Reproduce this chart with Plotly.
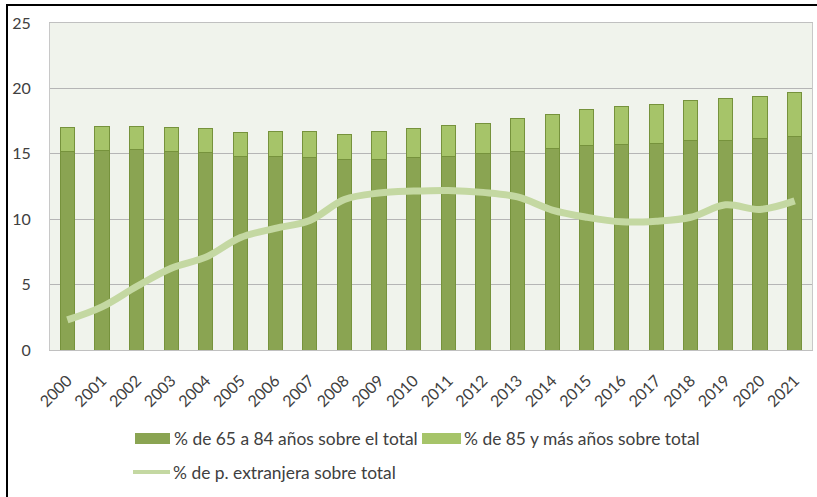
import plotly.graph_objects as go

years = [str(y) for y in range(2000, 2022)]
pct_65_84 = [15.2, 15.27, 15.3, 15.2, 15.1, 14.8, 14.8, 14.7, 14.55, 14.55, 14.7,
             14.8, 15.0, 15.2, 15.4, 15.6, 15.7, 15.8, 16.0, 16.05, 16.15, 16.35]
pct_total_65 = [17.0, 17.1, 17.1, 17.0, 16.9, 16.6, 16.7, 16.7, 16.5, 16.7, 16.9,
                17.15, 17.35, 17.7, 18.0, 18.4, 18.6, 18.8, 19.05, 19.25, 19.4, 19.7]
pct_85_plus = [round(t - a, 2) for t, a in zip(pct_total_65, pct_65_84)]
pct_extranjera = [2.3, 3.3, 4.85, 6.25, 7.1, 8.6, 9.3, 9.9, 11.5, 12.0, 12.15,
                  12.2, 12.05, 11.7, 10.7, 10.15, 9.8, 9.85, 10.15, 11.1, 10.75, 11.4]

names = ["% de 65 a 84 años sobre el total", "% de 85 y más años sobre total",
         "% de p. extranjera sobre total"]

C_DARK = "#8aa452"
C_LIGHT = "#a6c469"
C_EDGE = "#76923c"
C_LINE = "#c4d8a2"
FONT = "Lato, 'Open Sans', sans-serif"
TXT = "#404040"

fig = go.Figure()
fig.add_trace(go.Bar(x=years, y=pct_65_84, name=names[0], marker=dict(color=C_DARK, line=dict(color=C_EDGE, width=1))))
fig.add_trace(go.Bar(x=years, y=pct_85_plus, name=names[1], marker=dict(color=C_LIGHT, line=dict(color=C_EDGE, width=1))))
fig.add_trace(go.Scatter(x=years, y=pct_extranjera, name=names[2], mode="lines",
                         line=dict(color=C_LINE, width=7, shape="spline", smoothing=1.0)))

W, H = 817, 497
L, R, T, B = 50, 5, 23, 147
pw, ph = W - L - R, H - T - B

def px(x):
    return (x - L) / pw

def py(y):
    return (H - B - y) / ph

shapes = [
    dict(type="rect", xref="paper", yref="paper", x0=px(7), x1=px(822), y0=py(502), y1=py(5),
         line=dict(color="#000000", width=2), fillcolor="rgba(0,0,0,0)", layer="above"),
    dict(type="rect", xref="paper", yref="paper", x0=px(135), x1=px(170), y0=py(444), y1=py(433),
         line=dict(width=0), fillcolor=C_DARK),
    dict(type="rect", xref="paper", yref="paper", x0=px(422), x1=px(461), y0=py(444), y1=py(433),
         line=dict(width=0), fillcolor=C_LIGHT),
    dict(type="line", xref="paper", yref="paper", x0=px(133), x1=px(170), y0=py(472), y1=py(472),
         line=dict(color=C_LINE, width=4)),
]
LEG = dict(family=FONT, size=17.4, color=TXT)
annotations = [
    dict(text=names[0], xref="paper", yref="paper", x=px(172), y=py(438.5), xanchor="left", yanchor="middle",
         showarrow=False, font=LEG),
    dict(text=names[1], xref="paper", yref="paper", x=px(462), y=py(438.5), xanchor="left", yanchor="middle",
         showarrow=False, font=LEG),
    dict(text=names[2], xref="paper", yref="paper", x=px(171), y=py(472), xanchor="left", yanchor="middle",
         showarrow=False, font=LEG),
]

fig.update_layout(
    width=W, height=H,
    margin=dict(l=L, r=R, t=T, b=B),
    barmode="stack", bargap=0.59,
    paper_bgcolor="#ffffff", plot_bgcolor="#f0f3ec",
    showlegend=False,
    font=dict(family=FONT, color=TXT),
    shapes=shapes, annotations=annotations,
    xaxis=dict(tickangle=-45, tickfont=dict(size=16, color=TXT), showgrid=False,
               showline=True, linecolor="#c0c0c0", mirror=True, ticks="", ticklabelstandoff=14),
    yaxis=dict(range=[0, 25], dtick=5, tickfont=dict(size=16, color=TXT), showgrid=True,
               gridcolor="#b5b5b5", gridwidth=1, showline=True, linecolor="#c8c8c8", mirror=True,
               zeroline=False, ticklabelstandoff=15),
)

fig.write_html("out.html", config={"displayModeBar": False},
               post_script="document.body.style.margin='0';document.body.style.overflow='hidden';")
